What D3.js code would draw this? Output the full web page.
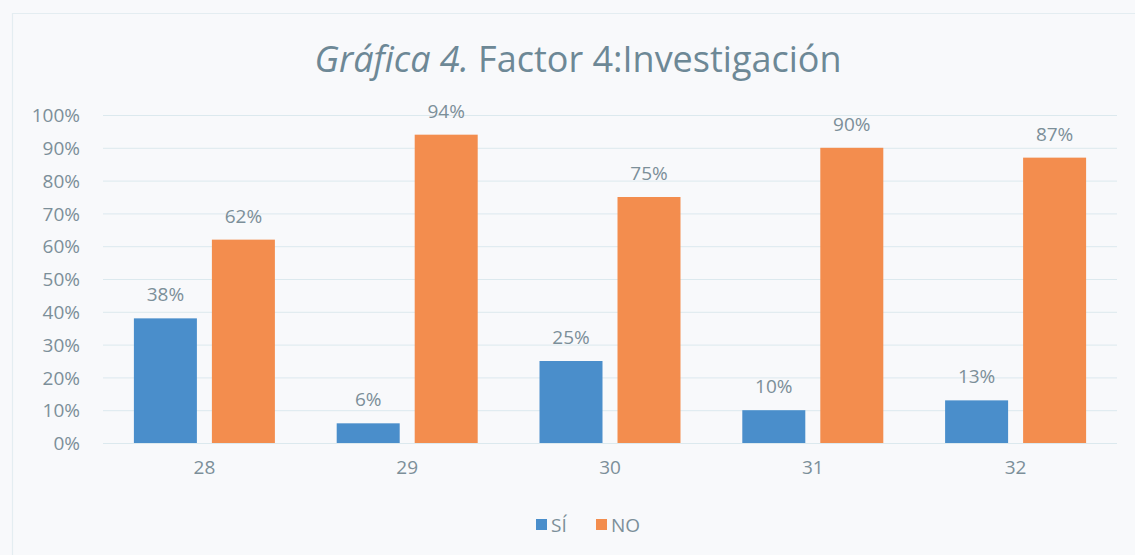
<!DOCTYPE html>
<html><head><meta charset="utf-8">
<script src="https://cdn.jsdelivr.net/npm/d3@7"></script>
<style>
html,body{margin:0;padding:0;background:#f8f9fb;}
svg{display:block;}
text{font-family:"Open Sans","Noto Sans",sans-serif;}
</style></head>
<body>
<script>
const categories = ["28","29","30","31","32"];
const siValues = [38, 6, 25, 10, 13];
const noValues = [62, 94, 75, 90, 87];
const yTicks = [0,10,20,30,40,50,60,70,80,90,100];
const seriesNames = ["SÍ","NO"];
const colors = ["#4a8ecb","#f38d4e"];

(function(){
const W=1135,H=555;
const svg=d3.select("body").append("svg").attr("width",W).attr("height",H);
svg.append("rect").attr("width",W).attr("height",H).attr("fill","#f8f9fb");
svg.append("path").attr("d",`M12.5,${H} L12.5,13.5 L${W},13.5`).attr("fill","none").attr("stroke","#e4edf1").attr("stroke-width",1.2);

const pL=103,pR=1117,pT=115,pB=443;
const x=d3.scaleBand().domain(categories).range([pL,pR]).paddingInner(0).paddingOuter(0);
const y=d3.scaleLinear().domain([0,100]).range([pB,pT]);

svg.append("g").selectAll("line").data(yTicks).join("line")
  .attr("x1",pL).attr("x2",pR).attr("y1",d=>y(d)+0.5).attr("y2",d=>y(d)+0.5)
  .attr("stroke","#dce9ee").attr("stroke-width",1);

const yAxis=d3.axisLeft(y).tickValues(yTicks).tickFormat(d=>d+"%").tickSize(0).tickPadding(0);
const gy=svg.append("g").attr("transform",`translate(${pL-23},0)`).call(yAxis);
gy.select(".domain").remove();
gy.selectAll("text").attr("fill","#7c8f99").attr("font-size",19).attr("dy","0.35em");

const xAxis=d3.axisBottom(x).tickSize(0).tickPadding(0);
const gx=svg.append("g").attr("transform",`translate(0,${pB+17})`).call(xAxis);
gx.select(".domain").remove();
gx.selectAll("text").attr("fill","#7c8f99").attr("font-size",19).attr("dy","0.75em");
gy.attr("font-family",null); gx.attr("font-family",null);

const barW=63, gap=15;
const sub=d3.scaleOrdinal().domain([0,1]).range([-(gap/2+barW), gap/2]);
const series=[siValues,noValues];
series.forEach((vals,si)=>{
  const g=svg.append("g");
  g.selectAll("rect").data(vals).join("rect")
    .attr("x",(d,i)=>x(categories[i])+x.bandwidth()/2+sub(si))
    .attr("y",d=>y(d)).attr("width",barW).attr("height",d=>pB-y(d))
    .attr("fill",colors[si]);
  g.selectAll("text").data(vals).join("text")
    .attr("x",(d,i)=>x(categories[i])+x.bandwidth()/2+sub(si)+barW/2)
    .attr("y",d=>y(d)-17)
    .attr("text-anchor","middle").attr("fill","#7c8f99").attr("font-size",19)
    .text(d=>d+"%");
});

const t=svg.append("text").attr("x",578).attr("y",72).attr("text-anchor","middle")
  .attr("fill","#6d8896").attr("font-size",36);
t.append("tspan").attr("font-style","italic").text("Gráfica 4.");
t.append("tspan").text(" Factor 4:Investigación");

const lg=svg.append("g").attr("transform","translate(536,525)");
seriesNames.forEach((n,i)=>{
  const ox=i===0?0:60;
  lg.append("rect").attr("x",ox).attr("y",-6).attr("width",11).attr("height",11).attr("fill",colors[i]);
  lg.append("text").attr("x",ox+15).attr("y",0).attr("dy","0.35em").attr("fill","#7c8f99").attr("font-size",19).text(n);
});
})();
</script>
</body></html>
